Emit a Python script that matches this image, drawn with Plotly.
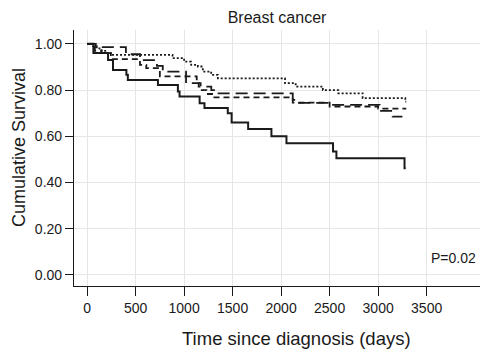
import plotly.graph_objects as go

# ---- data ----
solid_t = [0, 65, 216, 267, 405, 420, 730, 936, 953, 1160, 1210, 1450, 1490, 1660, 1900, 2055, 2535, 2570, 3272, 3285]
solid_s = [1.0, 0.96, 0.93, 0.887, 0.866, 0.844, 0.822, 0.794, 0.772, 0.743, 0.722, 0.70, 0.66, 0.631, 0.60, 0.57, 0.534, 0.505, 0.462, 0.462]

longdash_t = [0, 90, 400, 545, 720, 780, 1020, 1150, 1280, 1320, 2120, 2160, 2520, 3015, 3150, 3250]
longdash_s = [1.0, 0.986, 0.955, 0.93, 0.905, 0.88, 0.83, 0.815, 0.80, 0.786, 0.758, 0.745, 0.736, 0.71, 0.685, 0.685]

shortdash_t = [0, 50, 80, 150, 245, 545, 610, 750, 1130, 1170, 1230, 1300, 2120, 2500, 3000, 3290]
shortdash_s = [1.0, 0.985, 0.97, 0.96, 0.934, 0.909, 0.895, 0.859, 0.83, 0.80, 0.783, 0.768, 0.746, 0.729, 0.72, 0.72]

dotted_t = [0, 60, 100, 150, 200, 245, 880, 1000, 1073, 1142, 1193, 1279, 1348, 2040, 2150, 2430, 2590, 2840, 3280, 3290]
dotted_s = [1.0, 0.99, 0.98, 0.97, 0.96, 0.952, 0.938, 0.923, 0.909, 0.902, 0.88, 0.866, 0.851, 0.83, 0.815, 0.80, 0.786, 0.765, 0.75, 0.75]

x_ticks = [0, 500, 1000, 1500, 2000, 2500, 3000, 3500]
y_ticks = [0.0, 0.2, 0.4, 0.6, 0.8, 1.0]

FONT = "Liberation Sans, Arial, sans-serif"
INK = "#1a1a1a"

# page body has an 8px margin, so the figure is sized to fill the rest of the window
W, H = 482, 348
ML, MR, MT, MB = 66, 10, 22, 70
PW, PH = W - ML - MR, H - MT - MB

fig = go.Figure()
series = [
    (solid_t, solid_s, "solid", 2.0),
    (longdash_t, longdash_s, "12px,6px", 1.8),
    (shortdash_t, shortdash_s, "6px,4px", 1.8),
    (dotted_t, dotted_s, "2px,2px", 1.8),
]
for t, s, dash, w in series:
    fig.add_trace(go.Scatter(x=t, y=s, mode="lines", line=dict(shape="hv", color=INK, width=w, dash=dash),
                             showlegend=False, hoverinfo="skip"))

fig.add_annotation(x=0.995, y=0.075, xref="paper", yref="y", text="P=0.02", showarrow=False,
                   xanchor="right", yanchor="middle", font=dict(family=FONT, size=14, color=INK))
# axis titles
fig.add_annotation(x=(288 - ML) / PW, y=(MT + PH - 330) / PH, xref="paper", yref="paper",
                   text="Time since diagnosis (days)", showarrow=False, xanchor="center", yanchor="middle",
                   font=dict(family=FONT, size=18.5, color=INK))
fig.add_annotation(x=(11 - ML) / PW, y=(MT + PH - 140) / PH, xref="paper", yref="paper",
                   text="Cumulative Survival", showarrow=False, textangle=-90, xanchor="center", yanchor="middle",
                   font=dict(family=FONT, size=18, color=INK))

fig.update_layout(
    width=W, height=H,
    margin=dict(l=ML, r=MR, t=MT, b=MB, autoexpand=False),
    paper_bgcolor="white", plot_bgcolor="white",
    font=dict(family=FONT, size=14, color=INK),
    title=dict(text="Breast cancer", x=269 / W, xref="container", xanchor="center", y=1 - 9 / H, yref="container",
               yanchor="middle", automargin=False, font=dict(family=FONT, size=16, color=INK)),
)
fig.update_xaxes(range=[-135, 4050], tickvals=x_ticks, ticktext=[str(v) for v in x_ticks], automargin=False,
                 showline=True, linecolor=INK, linewidth=1.2, ticks="outside", ticklen=9, tickcolor=INK,
                 showgrid=True, gridcolor="#e6e6ea", gridwidth=1, zeroline=False,
                 tickfont=dict(family=FONT, size=14, color=INK))
fig.update_yaxes(range=[-0.048, 1.06], tickvals=y_ticks, tickformat=".2f", automargin=False,
                 showline=True, linecolor=INK, linewidth=1.2, ticks="outside", ticklen=8, tickcolor=INK,
                 showgrid=True, gridcolor="#e6e6ea", gridwidth=1, zeroline=False,
                 tickfont=dict(family=FONT, size=14, color=INK))

fig.write_html("out.html")
